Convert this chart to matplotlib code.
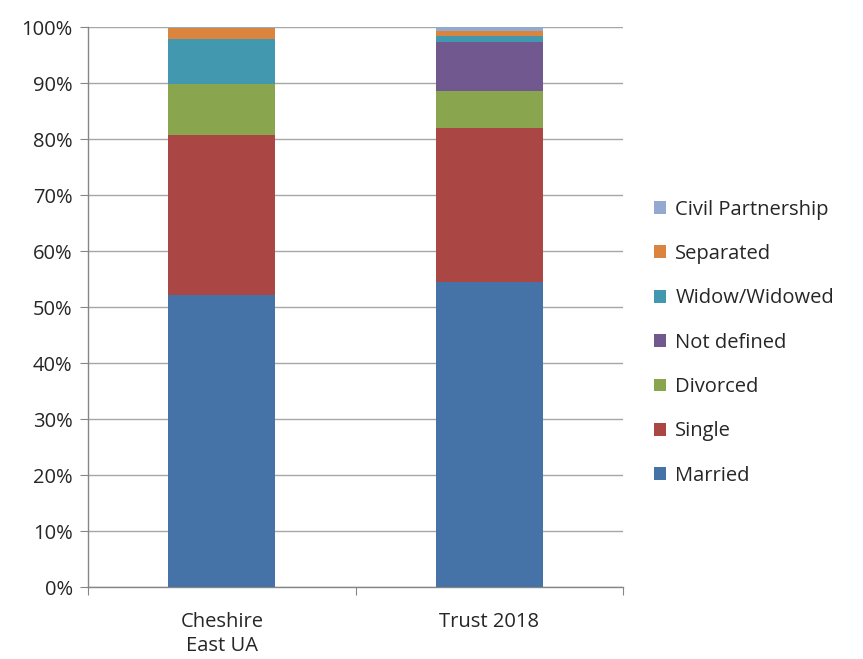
import matplotlib.pyplot as plt
import numpy as np

categories = ["Cheshire\nEast UA", "Trust 2018"]
series_names = ["Married", "Single", "Divorced", "Not defined",
                "Widow/Widowed", "Separated", "Civil Partnership"]
married = [52.1, 54.5]
single = [28.6, 27.4]
divorced = [9.2, 6.7]
not_defined = [0.0, 8.7]
widowed = [7.9, 1.1]
separated = [2.1, 0.9]
civil_partnership = [0.1, 0.7]
y_ticks = [0, 10, 20, 30, 40, 50, 60, 70, 80, 90, 100]

series_values = [married, single, divorced, not_defined, widowed,
                 separated, civil_partnership]
colors = ["#4572A7", "#AA4643", "#89A54E", "#71588F", "#4198AF",
          "#DB843D", "#93A9CF"]

plt.rcParams['font.family'] = ['Open Sans', 'DejaVu Sans']
FS = 14.5

fig = plt.figure(figsize=(8.63, 6.59), dpi=100)
ax = fig.add_axes([0.102, 0.109, 0.620, 0.850])

x = np.arange(len(categories))
totals = np.array([sum(v[i] for v in series_values) for i in range(len(categories))])
bottom = np.zeros(len(categories))
handles = []
for name, vals, col in zip(series_names, series_values, colors):
    vals = np.array(vals) / totals * 100
    h = ax.bar(x, vals, width=0.4, bottom=bottom, color=col, label=name,
               zorder=3, linewidth=0)
    handles.append(h)
    bottom += vals

ax.set_xlim(-0.5, 1.5)
ax.set_ylim(0, 100)
ax.set_yticks(y_ticks)
ax.set_yticklabels([f"{t}%" for t in y_ticks], fontsize=FS, color="#262626")
ax.yaxis.grid(True, color="#A6A6A6", linewidth=1.0, zorder=0)
ax.set_axisbelow(True)

ax.set_xticks([-0.5, 0.5, 1.5])
ax.set_xticklabels([])
ax.set_xticks(x, minor=True)
ax.set_xticklabels(categories, minor=True, fontsize=FS, color="#262626",
                   linespacing=1.25)
ax.tick_params(axis='x', which='minor', length=0, pad=18)
ax.tick_params(axis='x', which='major', length=6, color="#868686", direction='out')
ax.tick_params(axis='y', length=6, color="#868686", direction='out', pad=5)

for side in ["top", "right"]:
    ax.spines[side].set_visible(False)
for side in ["left", "bottom"]:
    ax.spines[side].set_color("#868686")
    ax.spines[side].set_linewidth(1.0)

leg = fig.legend(handles[::-1], series_names[::-1], loc="center left",
                 bbox_to_anchor=(0.737, 0.480), frameon=False, fontsize=FS,
                 handlelength=0.6, handleheight=0.6, handletextpad=0.45,
                 labelspacing=1.21)
for t in leg.get_texts():
    t.set_color("#262626")

fig.savefig("out.png", dpi=100)
